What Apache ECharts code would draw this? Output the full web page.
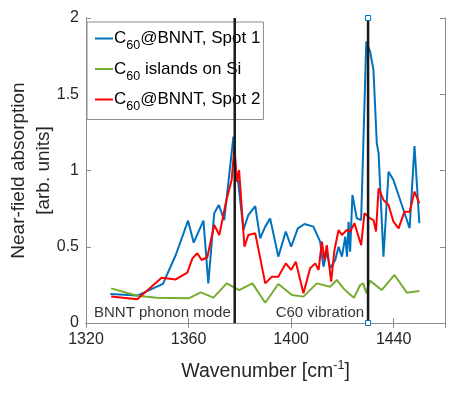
<!DOCTYPE html>
<html>
<head>
<meta charset="utf-8">
<script src="https://cdn.jsdelivr.net/npm/echarts@6/dist/echarts.min.js"></script>
<style>
  html, body { margin: 0; padding: 0; background: #fff; }
  #main { width: 463px; height: 396px; }
</style>
</head>
<body>
<div id="main"></div>
<script>
// spectra: [wavenumber, absorption]
var spot1 = [
  [1329.5, 0.19], [1340, 0.18], [1350, 0.256], [1355, 0.446], [1359.8, 0.671],
  [1362, 0.527], [1365.8, 0.671], [1367.7, 0.26], [1370, 0.719], [1371.8, 0.774],
  [1373.9, 0.675], [1377.5, 1.222], [1378.4, 1.003], [1379.4, 0.916], [1381.4, 0.61],
  [1383.3, 0.708], [1386, 0.767], [1387.9, 0.555], [1389.9, 0.632], [1391.8, 0.686],
  [1395, 0.435], [1397.9, 0.6], [1400, 0.5], [1402.6, 0.621], [1405.2, 0.649],
  [1408.7, 0.632], [1411.3, 0.533], [1412.6, 0.369], [1413.9, 0.467], [1415.2, 0.359],
  [1417.2, 0.413], [1418.5, 0.5], [1419.8, 0.435], [1421.1, 0.566], [1421.8, 0.435],
  [1422.4, 0.664], [1423, 0.467], [1423.9, 0.839], [1425.6, 0.686], [1427.3, 0.675],
  [1429.3, 1.845], [1430.8, 1.779], [1432.1, 1.659], [1433.4, 1.178], [1434.1, 1.113],
  [1436, 0.435], [1438, 0.992], [1439.9, 0.938], [1446.2, 0.621], [1448.1, 1.16],
  [1450, 0.654]
];
var islands = [
  [1329.8, 0.227], [1340, 0.179], [1347.6, 0.166], [1360, 0.162], [1364.8, 0.201],
  [1369.7, 0.166], [1374.9, 0.26], [1379.7, 0.216], [1384.9, 0.26], [1389.9, 0.133],
  [1395, 0.256], [1400.3, 0.184], [1404.8, 0.173], [1410, 0.26], [1415.2, 0.238],
  [1417.8, 0.282], [1420.4, 0.227], [1422.4, 0.195], [1424.5, 0.165], [1426.9, 0.249],
  [1428.1, 0.26], [1429.3, 0.195], [1430.7, 0.278], [1435.3, 0.216], [1440.3, 0.315],
  [1445.1, 0.199], [1450, 0.21]
];
var spot2 = [
  [1329.8, 0.173], [1340, 0.155], [1349.5, 0.297], [1355, 0.286], [1359.5, 0.33],
  [1361.5, 0.424], [1363.4, 0.457], [1365.1, 0.413], [1367.3, 0.431], [1370, 0.643],
  [1372, 0.577], [1374.6, 0.795], [1376.8, 0.938], [1377.9, 1.156], [1378.8, 0.927],
  [1379.7, 1.003], [1381.8, 0.5], [1383.3, 0.577], [1386, 0.588], [1389.9, 0.26],
  [1392.5, 0.304], [1395, 0.304], [1397.9, 0.391], [1400, 0.348], [1401.8, 0.402],
  [1404.8, 0.195], [1407.4, 0.359], [1409.4, 0.391], [1410.7, 0.348], [1412, 0.533],
  [1413, 0.413], [1413.9, 0.511], [1415.6, 0.271], [1416.9, 0.479], [1418.5, 0.61],
  [1419.8, 0.577], [1421.7, 0.61], [1423, 0.6], [1424.7, 0.654], [1427.3, 0.51],
  [1428.6, 0.72], [1430.8, 0.686], [1432.1, 0.675], [1433.1, 0.6], [1434.1, 0.883],
  [1436, 0.807], [1438, 0.774], [1439.9, 0.664], [1441.9, 0.621], [1444.2, 0.73],
  [1446.2, 0.73], [1448.1, 0.861], [1450, 0.785]
];
var phononLine = [[1378, 0], [1378, 2]];
var c60Line = [[1430, 0], [1430, 2]];
var xTicks = [1320, 1360, 1400, 1440];
var yTicks = [0, 0.5, 1, 1.5, 2];

var font = 'Liberation Sans, Arial, Helvetica, sans-serif';
var axisGrey = '#8c8c8c';
var textCol = '#262626';

var myChart = echarts.init(document.getElementById('main'));

var legendNames = {
  'C60@BNNT, Spot 1': 'C{sub|60}@BNNT, Spot 1',
  'C60 islands on Si': 'C{sub|60} islands on Si',
  'C60@BNNT, Spot 2': 'C{sub|60}@BNNT, Spot 2'
};

var option = {
  animation: false,
  backgroundColor: '#fff',
  textStyle: {fontFamily: font},
  grid: {left: 86, right: 18, top: 18, bottom: 73, outerBoundsMode: 'none'},
  legend: {
    orient: 'vertical',
    left: 87,
    top: 22,
    icon: 'rect',
    itemWidth: 18,
    itemHeight: 2,
    itemGap: 8,
    padding: [8, 3, 6, 8],
    borderColor: axisGrey,
    borderWidth: 1,
    backgroundColor: '#fff',
    data: ['C60@BNNT, Spot 1', 'C60 islands on Si', 'C60@BNNT, Spot 2'],
    formatter: function (name) { return legendNames[name]; },
    textStyle: {
      color: '#000',
      fontSize: 17,
      fontFamily: font,
      padding: [0, 0, 0, -4],
      rich: {
        sub: {fontSize: 12.5, fontFamily: font, color: '#000', padding: [15, 0, 0, 0]}
      }
    }
  },
  xAxis: [
    {
      type: 'value',
      min: xTicks[0],
      max: 1460,
      interval: xTicks[1] - xTicks[0],
      name: 'Wavenumber [cm{sup|-1}]',
      nameLocation: 'middle',
      nameGap: 36,
      nameMoveOverlap: false,
      nameTextStyle: {
        color: textCol, fontSize: 19.5, fontFamily: font,
        rich: {sup: {fontSize: 12.5, color: textCol, fontFamily: font, padding: [0, 0, 13, 0]}}
      },
      axisLine: {show: true, lineStyle: {color: axisGrey, width: 1}},
      axisTick: {show: true, inside: true, length: 5, lineStyle: {color: axisGrey}},
      axisLabel: {color: textCol, fontSize: 16, margin: 9, fontFamily: font,
        showMaxLabel: false, formatter: function (v) { return String(v); }},
      splitLine: {show: false}
    },
    {
      type: 'value',
      position: 'top',
      min: xTicks[0],
      max: 1460,
      interval: xTicks[1] - xTicks[0],
      axisLine: {show: true, lineStyle: {color: axisGrey, width: 1}},
      axisTick: {show: true, inside: true, length: 5, lineStyle: {color: axisGrey}},
      axisLabel: {show: false},
      splitLine: {show: false}
    }
  ],
  yAxis: [
    {
      type: 'value',
      min: yTicks[0],
      max: yTicks[yTicks.length - 1],
      interval: yTicks[1] - yTicks[0],
      name: 'Near-field absorption\n[arb. units]',
      nameLocation: 'middle',
      nameGap: 30,
      nameMoveOverlap: false,
      nameTextStyle: {color: textCol, fontSize: 19, lineHeight: 25, fontFamily: font},
      axisLine: {show: true, lineStyle: {color: axisGrey, width: 1}},
      axisTick: {show: true, inside: true, length: 5, lineStyle: {color: axisGrey}},
      axisLabel: {color: textCol, fontSize: 16, margin: 7, fontFamily: font},
      splitLine: {show: false}
    },
    {
      type: 'value',
      position: 'right',
      min: yTicks[0],
      max: yTicks[yTicks.length - 1],
      interval: yTicks[1] - yTicks[0],
      axisLine: {show: true, lineStyle: {color: axisGrey, width: 1}},
      axisTick: {show: true, inside: true, length: 5, lineStyle: {color: axisGrey}},
      axisLabel: {show: false},
      splitLine: {show: false}
    }
  ],
  series: [
    {
      name: 'C60@BNNT, Spot 1',
      type: 'line',
      data: spot1,
      symbol: 'none',
      lineStyle: {color: '#0072BD', width: 2},
      itemStyle: {color: '#0072BD'}
    },
    {
      name: 'C60 islands on Si',
      type: 'line',
      data: islands,
      symbol: 'none',
      lineStyle: {color: '#77AC30', width: 2},
      itemStyle: {color: '#77AC30'}
    },
    {
      name: 'C60@BNNT, Spot 2',
      type: 'line',
      data: spot2,
      symbol: 'none',
      lineStyle: {color: '#FF0000', width: 2},
      itemStyle: {color: '#FF0000'}
    },
    {
      name: 'BNNT phonon mode',
      type: 'line',
      data: phononLine,
      symbol: 'none',
      z: 5,
      lineStyle: {color: '#1a1a1a', width: 2.5}
    },
    {
      name: 'C60 vibration',
      type: 'line',
      data: c60Line,
      symbol: 'rect',
      symbolSize: 5,
      showSymbol: true,
      z: 5,
      lineStyle: {color: '#1a1a1a', width: 2.5},
      itemStyle: {color: '#fff', borderColor: '#0072BD', borderWidth: 1}
    },
    {
      name: 'labels',
      type: 'scatter',
      symbolSize: 0,
      z: 6,
      data: [
        {value: [phononLine[0][0], 0], label: {formatter: 'BNNT phonon mode'}},
        {value: [c60Line[0][0], 0], label: {formatter: 'C60 vibration'}}
      ],
      label: {
        show: true,
        position: 'left',
        distance: 4,
        offset: [0, -10],
        color: '#000',
        fontSize: 15,
        fontFamily: font
      }
    }
  ]
};

myChart.setOption(option);
</script>
</body>
</html>
